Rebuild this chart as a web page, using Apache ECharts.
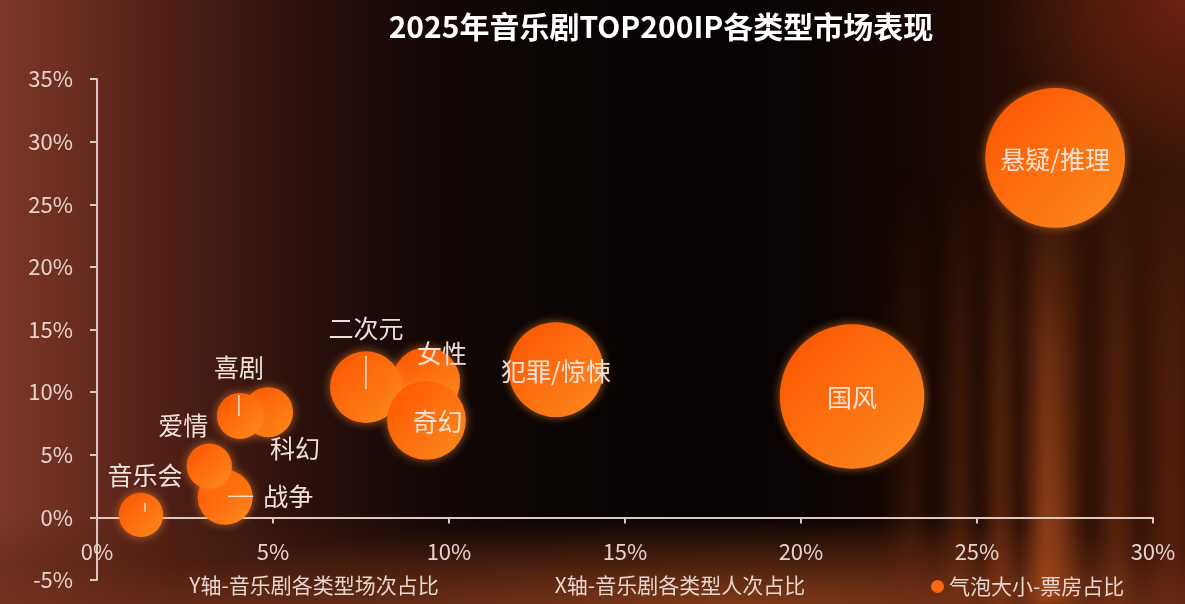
<!DOCTYPE html>
<html>
<head>
<meta charset="utf-8">
<script src="https://cdn.jsdelivr.net/npm/echarts@6/dist/echarts.min.js"></script>
<style>
html,body{margin:0;padding:0;width:1185px;height:604px;overflow:hidden;background:#080403;}
#bg{position:absolute;left:0;top:0;width:1185px;height:604px;
background:
 radial-gradient(ellipse 50% 14% at 62% 100%, rgba(160,72,28,0.6), rgba(0,0,0,0)),
 linear-gradient(to top, rgba(110,46,22,0.65) 0%, rgba(85,34,16,0.35) 7%, rgba(0,0,0,0) 15%),
 radial-gradient(ellipse 16% 28% at 100% 0%, rgba(118,36,18,0.85), rgba(0,0,0,0)),
 linear-gradient(90deg, #7c3727 0%, #6b2d21 6%, #4c1e16 15%, #2c110d 25%, #160907 35%, #0b0504 45%, #070303 58%, #0a0403 68%, #180804 78%, #2a0f06 88%, #3a1508 100%);
}
#streaks{position:absolute;left:0;top:0;width:1185px;height:604px;filter:blur(4px);
background: linear-gradient(90deg,
 rgba(0,0,0,0) 0px, rgba(0,0,0,0) 880px,
 rgba(110,45,18,0.3) 912px, rgba(0,0,0,0) 935px,
 rgba(130,56,20,0.4) 960px, rgba(40,14,6,0.1) 980px,
 rgba(150,64,22,0.5) 1000px, rgba(60,22,8,0.15) 1020px,
 rgba(185,82,28,0.7) 1045px, rgba(165,72,24,0.6) 1062px, rgba(0,0,0,0) 1085px,
 rgba(0,0,0,0) 1095px,
 rgba(130,55,20,0.5) 1117px, rgba(20,6,2,0.1) 1140px,
 rgba(110,42,18,0.45) 1168px, rgba(100,36,16,0.45) 1185px);
-webkit-mask-image: linear-gradient(to bottom, rgba(0,0,0,0) 28%, rgba(0,0,0,0.7) 58%, #000 85%);
mask-image: linear-gradient(to bottom, rgba(0,0,0,0) 28%, rgba(0,0,0,0.7) 58%, #000 85%);
}
#chart{position:absolute;left:0;top:0;width:1185px;height:604px;}
</style>
</head>
<body>
<div id="bg"></div>
<div id="streaks"></div>
<div id="chart"></div>
<script>
// ---- data ----
const categories     = ['音乐会', '战争', '爱情', '科幻', '喜剧', '女性', '二次元', '奇幻', '犯罪/惊悚', '国风', '悬疑/推理'];
const personShare    = [1.25, 3.64, 3.19, 4.86, 4.06, 9.35, 7.64, 9.36, 13.04, 21.45, 27.22]; // X: 人次占比 (%)
const sessionShare   = [0.2, 1.6, 4.1, 8.4, 8.1, 10.85, 10.4, 7.75, 11.8, 9.65, 28.7];      // Y: 场次占比 (%)
const boxOfficeShare = [2.6, 4.0, 2.7, 3.3, 2.8, 6.1, 6.8, 8.2, 11.9, 27.6, 25.8];           // 气泡大小: 票房占比 (%)
const xTickValues = [0, 5, 10, 15, 20, 25, 30];
const yTickValues = [-5, 0, 5, 10, 15, 20, 25, 30, 35];

const FONT = "'Noto Sans CJK SC', 'Noto Sans', sans-serif";
const LABEL_COLOR = '#f3e7e1';
const SEG = 'rgba(255,244,236,0.9)';

// label placement (style only)
const labelCfg = {
  '音乐会':   { fmt: '{t|音乐会}\n{g12|}\n{v9|}',  offset: [4, -28.5] },
  '战争':     { fmt: '{h|}{gh|}{t|战争}', offset: [3, -1], align: 'left' },
  '爱情':     { fmt: '{t|爱情}', offset: [-26, -41] },
  '科幻':     { fmt: '{t|科幻}', offset: [27, 36] },
  '喜剧':     { fmt: '{t|喜剧}\n{g12|}\n{v21|}', offset: [-1, -31.5] },
  '女性':     { fmt: '{t|女性}', offset: [16, -28] },
  '二次元':   { fmt: '{t|二次元}\n{g13|}\n{v33|}', offset: [0, -36] },
  '奇幻':     { fmt: '{t|奇幻}', offset: [11, 1] },
  '犯罪/惊悚': { fmt: '{t|犯罪/惊悚}', offset: [0, 2] },
  '国风':     { fmt: '{t|国风}', offset: [0, 1] },
  '悬疑/推理': { fmt: '{t|悬疑/推理}', offset: [0, 2] }
};

const rich = {
  t:   { fontSize: 25, lineHeight: 30, color: LABEL_COLOR, fontFamily: FONT, verticalAlign: 'middle' },
  g12: { width: 1, height: 12, lineHeight: 12 },
  g13: { width: 1, height: 13, lineHeight: 13 },
  v9:  { width: 1.5, height: 9, lineHeight: 9, backgroundColor: SEG },
  v21: { width: 1.5, height: 21, lineHeight: 21, backgroundColor: SEG },
  v33: { width: 1.5, height: 33, lineHeight: 33, backgroundColor: SEG },
  h:   { width: 25, height: 1.5, backgroundColor: SEG, verticalAlign: 'middle' },
  gh:  { width: 10, height: 1, verticalAlign: 'middle' }
};

const seriesData = categories.map((name, i) => {
  const c = labelCfg[name];
  return {
    name: name,
    value: [personShare[i], sessionShare[i], boxOfficeShare[i]],
    label: {
      show: true,
      position: 'inside',
      align: c.align || 'center',
      verticalAlign: 'middle',
      offset: c.offset,
      formatter: c.fmt,
      rich: rich
    }
  };
});

const chart = echarts.init(document.getElementById('chart'), null, { renderer: 'canvas' });

const option = {
  backgroundColor: 'transparent',
  animation: false,
  title: [
    {
      text: '2025年音乐剧TOP200IP各类型市场表现',
      left: 661, top: 12, padding: 0, textAlign: 'center',
      textStyle: { color: '#ffffff', fontSize: 30, fontWeight: 'bold', fontFamily: FONT }
    },
    {
      text: 'Y轴-音乐剧各类型场次占比',
      left: 314, top: 575, padding: 0, textAlign: 'center',
      textStyle: { color: '#e6d6d0', fontSize: 21, fontWeight: 'normal', fontFamily: FONT }
    },
    {
      text: 'X轴-音乐剧各类型人次占比',
      left: 680, top: 575, padding: 0, textAlign: 'center',
      textStyle: { color: '#e6d6d0', fontSize: 21, fontWeight: 'normal', fontFamily: FONT }
    }
  ],
  legend: {
    data: ['气泡大小-票房占比'],
    left: 931, top: 576, padding: 0,
    icon: 'circle', itemWidth: 13, itemHeight: 13,
    textStyle: { color: '#e6d6d0', fontSize: 21, fontFamily: FONT },
    itemStyle: { color: '#ff6a12', shadowBlur: 0 }
  },
  grid: { left: 97, right: 32, top: 79, bottom: 24, containLabel: false, outerBoundsMode: 'none' },
  xAxis: {
    type: 'value',
    min: xTickValues[0], max: xTickValues[xTickValues.length - 1], interval: 5,
    axisLine: { show: true, onZero: true, lineStyle: { color: '#dcc8c2', width: 2 } },
    axisTick: { show: true, length: 6, lineStyle: { color: '#dcc8c2', width: 2 } },
    axisLabel: { color: '#e6d3cd', fontSize: 22, fontFamily: FONT, margin: -39, formatter: '{value}%' },
    splitLine: { show: false }
  },
  yAxis: {
    type: 'value',
    min: yTickValues[0], max: yTickValues[yTickValues.length - 1], interval: 5,
    axisLine: { show: true, onZero: false, lineStyle: { color: '#dcc8c2', width: 2 } },
    axisTick: { show: true, length: 7, lineStyle: { color: '#dcc8c2', width: 2 } },
    axisLabel: { color: '#e6d3cd', fontSize: 22, fontFamily: FONT, margin: 24, formatter: '{value}%' },
    splitLine: { show: false }
  },
  series: [{
    name: '气泡大小-票房占比',
    type: 'scatter',
    data: seriesData,
    symbolSize: function (v) { return Math.sqrt(v[2]) * 27.5; },
    itemStyle: {
      color: new echarts.graphic.LinearGradient(0, 0, 1, 1, [
        { offset: 0, color: '#ff5300' },
        { offset: 1, color: '#ff8d1e' }
      ]),
      opacity: 0.97,
      shadowBlur: 10,
      shadowColor: 'rgba(255,140,40,0.65)'
    },
    emphasis: { disabled: true }
  }]
};

chart.setOption(option);
</script>
</body>
</html>
